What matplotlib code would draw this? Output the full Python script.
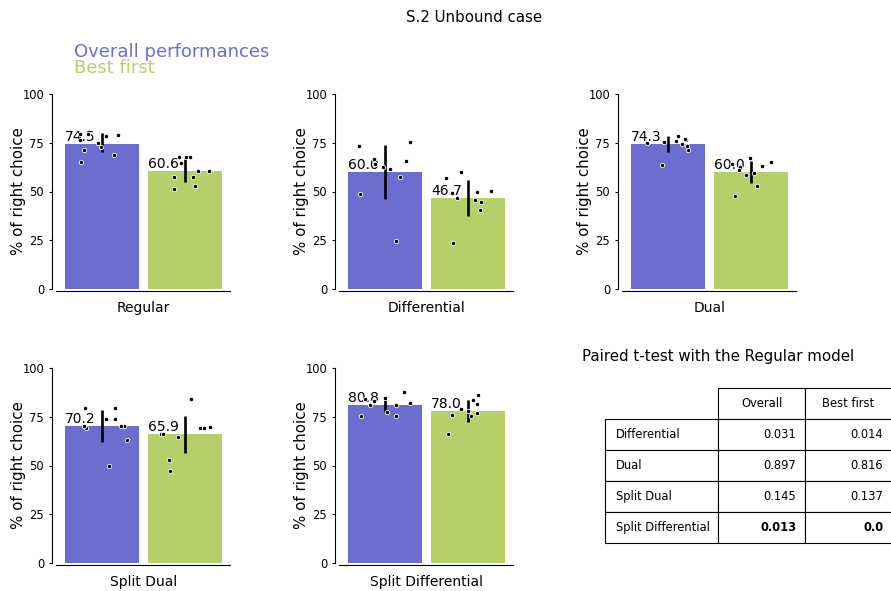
#Importing Libraries
import numpy as np
import matplotlib
matplotlib.use("Agg")
import matplotlib.pyplot as plt

#Chart data
models = ["Regular", "Differential", "Dual", "Split Dual", "Split Differential"]
series = ["Overall performances", "Best first"]

overall_mean = [74.5, 60.0, 74.3, 70.2, 80.8]
best_mean = [60.6, 46.7, 60.0, 65.9, 78.0]

#Error bar ranges (low, high)
overall_ci = [(70.1, 79.8), (46.2, 73.8), (70.1, 78.6), (62.2, 78.5), (77.3, 84.4)]
best_ci = [(55.0, 66.5), (37.4, 55.9), (54.5, 65.6), (56.6, 75.4), (72.5, 83.6)]

#Individual runs
overall_points = [
    [79.5, 79.5, 79.0, 78.5, 76.4, 74.7, 72.7, 71.3, 68.7, 65.3],
    [73.5, 75.2, 66.7, 64.1, 65.8, 61.5, 62.4, 57.6, 48.7, 24.8],
    [76.4, 76.1, 78.6, 76.9, 75.2, 74.4, 71.3, 74.7, 73.3, 63.6],
    [79.3, 79.7, 73.8, 73.7, 70.3, 69.1, 70.3, 70.3, 63.1, 49.9],
    [84.1, 83.2, 84.4, 87.5, 81.9, 81.0, 81.0, 77.3, 75.4, 75.4],
]
best_points = [
    [67.8, 67.8, 64.4, 67.8, 60.7, 60.7, 57.3, 57.3, 52.8, 51.3],
    [59.8, 56.8, 49.9, 50.4, 49.1, 45.5, 46.5, 44.8, 40.5, 23.7],
    [67.3, 63.9, 63.1, 62.7, 65.1, 61.0, 59.3, 58.5, 53.0, 47.5],
    [83.9, 69.9, 69.1, 69.1, 66.2, 64.5, 66.0, 52.7, 47.0, 69.1],
    [86.2, 79.0, 83.6, 81.5, 76.8, 77.9, 75.5, 75.9, 77.9, 66.0],
]

#Paired t-test table
table_rows = ["Differential", "Dual", "Split Dual", "Split Differential"]
table_cols = ["Overall", "Best first"]
pvals_overall = ["0.031", "0.897", "0.145", "0.013"]
pvals_best = ["0.014", "0.816", "0.137", "0.0"]
bold_rows = [3]

#Colors
c_overall = "#6b6ecf"
c_best = "#b5cf6b"

W, H = 891, 591
fig = plt.figure(figsize=(W / 100, H / 100), dpi=100)

def px_axes(left, top, width, height):
    return fig.add_axes([left / W, 1 - (top + height) / H, width / W, height / H])

col_left = [56, 339, 622]
row_top = [94, 368]
rng = np.random.default_rng(3)

for i, name in enumerate(models):
    r, c = divmod(i, 3)
    ax = px_axes(col_left[c], row_top[r], 174, 195)
    means = [overall_mean[i], best_mean[i]]
    bars = ax.bar([0, 1], means, width=0.89, color=[c_overall, c_best], zorder=1)
    for x, (lo, hi) in zip([0, 1], [overall_ci[i], best_ci[i]]):
        ax.vlines(x, lo, hi, color="black", lw=1.9, zorder=3)
    for x, pts in zip([0, 1], [overall_points[i], best_points[i]]):
        jit = rng.uniform(-0.32, 0.32, len(pts))
        ax.scatter(x + jit, pts, s=10, color="black", edgecolor="white",
                   linewidth=0.6, zorder=4)
    #Value labels at the left corner of each bar
    for b, m in zip(bars, means):
        ax.text(b.get_x(), b.get_height(), f"{m}", ha="left", va="bottom",
                fontsize=10, zorder=2)
    ax.set_xlim(-0.554, 1.542)
    ax.set_ylim(0, 100)
    ax.set_yticks([0, 25, 50, 75, 100])
    ax.set_xticks([0.5])
    ax.set_xticklabels([name], fontsize=10.8)
    ax.tick_params(axis="x", length=0, pad=7)
    ax.tick_params(axis="y", labelsize=8.3, length=2.5, pad=3)
    ax.set_ylabel("% of right choice", fontsize=10.8, labelpad=-2.5)
    ax.spines["top"].set_visible(False)
    ax.spines["right"].set_visible(False)
    ax.spines["left"].set_position(("outward", 3))
    ax.spines["bottom"].set_position(("outward", 1.5))

#Title and legend texts
fig.text(474 / W, 1 - 18 / H, "S.2 Unbound case", ha="center", va="center", fontsize=10.8)
fig.text(74 / W, 1 - 52 / H, series[0], color=c_overall, fontsize=13, va="center")
fig.text(74 / W, 1 - 68 / H, series[1], color=c_best, fontsize=13, va="center")

#Table of p-values
fig.text(582 / W, 1 - 356 / H, "Paired t-test with the Regular model", va="center", fontsize=10.8)
tax = px_axes(605, 388, 287, 155)
tax.axis("off")
cell_text = [[n, a, b] for n, a, b in zip(table_rows, pvals_overall, pvals_best)]
tab = tax.table(cellText=cell_text, colLabels=[""] + table_cols,
                colWidths=[113, 87, 87], cellLoc="right", bbox=[0, 0, 1, 1])
tab.auto_set_font_size(False)
tab.set_fontsize(8.3)
for (row, col), cell in tab.get_celld().items():
    cell.set_linewidth(0.8)
    if row == 0:
        cell.get_text().set_ha("center")
        cell._loc = "center"
        if col == 0:
            cell.visible_edges = ""
    elif col == 0:
        cell._loc = "left"
        cell.get_text().set_ha("left")
    elif row - 1 in bold_rows:
        cell.get_text().set_fontweight("bold")

fig.savefig("out.png", dpi=100)
